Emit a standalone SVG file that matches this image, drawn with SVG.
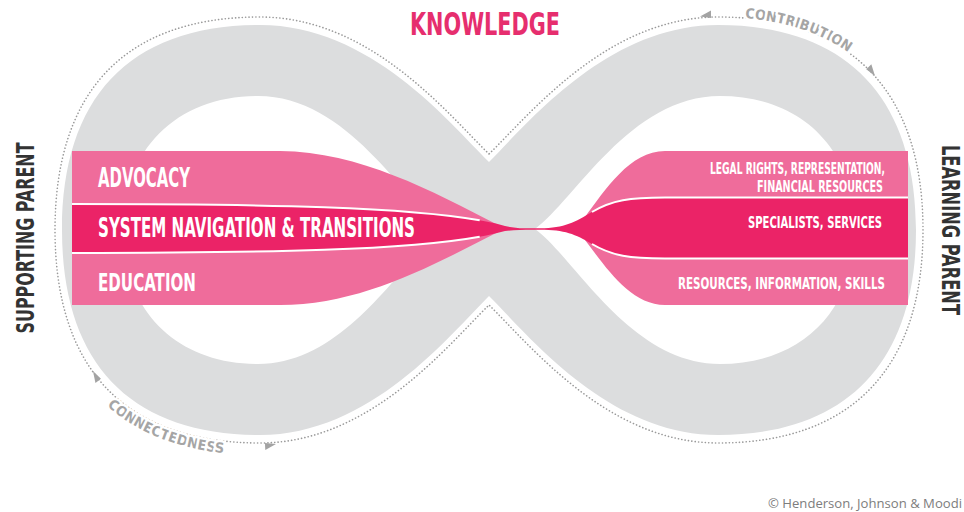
<svg xmlns="http://www.w3.org/2000/svg" width="964" height="512" viewBox="0 0 964 512">
<style>
.t{font-family:"Liberation Sans Narrow","DejaVu Sans Condensed","Liberation Sans",sans-serif;font-weight:bold}
.w{fill:#ffffff}
.e{text-anchor:end}
.lp{fill:#ef6c9b}
.dp{fill:#eb2367}
.sep{fill:none;stroke:#ffffff;stroke-width:2}
.dot{fill:none;stroke:#9a9a9a;stroke-width:1.6;stroke-dasharray:0.1 3.3;stroke-linecap:round}
.arr{fill:#a3a3a3}
.arc{fill:#a5a5a5;font-size:14px;stroke:#ffffff;stroke-width:5;stroke-linejoin:round;paint-order:stroke}
.side{fill:#333333;font-size:24px}
</style>
<defs>
<path id="pContrib" d="M718,17 C852,17 923,92 923,230"/>
<path id="pConn" d="M43,230 C43,377 119,455 260,455"/>
</defs>
<rect width="964" height="512" fill="#ffffff"/>
<g id="infinity-band">
<path fill="#dcddde" fill-rule="evenodd" d="M489,162 C449,122 370,25 260,25 C130,25 62,97 62,230 C62,363 130,435 260,435 C370,435 449,336 489,296 C529,336 608,435 718,435 C846,435 916,363 916,230 C916,97 846,25 718,25 C608,25 529,122 489,162 Z M535,229 C575,200 630,96 720,96 C801,96 855,149 855,230 C855,311 801,364 720,364 C630,364 575,258 535,229 Z M443,229 C403,200 348,96 258,96 C177,96 123,149 123,230 C123,311 177,364 258,364 C348,364 403,258 443,229 Z"/>
</g>
<g id="connectors">
<path class="dot" d="M489,154 C447,113 370,17 260,17 C124,17 55,92 55,230 C55,368 124,443 260,443 C370,443 447,346 489,305 C531,346 608,443 718,443 C852,443 923,368 923,230 C923,92 852,17 718,17 C608,17 531,113 489,154 Z"/>
<polygon class="arr" points="700,16.5 711,10.5 711,18"/>
<polygon class="arr" transform="translate(875,76) rotate(46)" points="0,0 -11,-5.5 -11,1.5"/>
<polygon class="arr" transform="translate(93,371) rotate(-128)" points="0,0 -11,-5.5 -11,1.5"/>
<polygon class="arr" transform="translate(276,444) rotate(-3)" points="0,0 -11,5.5 -11,-1.5"/>
</g>
<g id="contribution">
<text class="t arc"><textPath href="#pContrib" startOffset="27" textLength="110" lengthAdjust="spacingAndGlyphs">CONTRIBUTION</textPath></text>
</g>
<g id="connectedness">
<text class="t arc"><textPath href="#pConn" startOffset="54%" textLength="128" lengthAdjust="spacingAndGlyphs">CONNECTEDNESS</textPath></text>
</g>
<g id="advocacy">
<path class="lp" d="M72,151 H280 C360,152 430,190 500,226 L500,229 L72,229 Z"/>
<text class="t w" x="98" y="187" font-size="26" textLength="92" lengthAdjust="spacingAndGlyphs">ADVOCACY</text>
</g>
<g id="education">
<path class="lp" d="M72,305 H280 C360,305 430,267 500,231 L500,229 L72,229 Z"/>
<text class="t w" x="98" y="291" font-size="25.5" textLength="98" lengthAdjust="spacingAndGlyphs">EDUCATION</text>
</g>
<g id="legal-rights">
<path class="lp" d="M908,151 H665 C630,151 605,190 585,217 L585,229 H908 Z"/>
<text class="t w e" x="885" y="174" font-size="16" textLength="175" lengthAdjust="spacingAndGlyphs">LEGAL RIGHTS, REPRESENTATION,</text>
<text class="t w e" x="883" y="192" font-size="16" textLength="126" lengthAdjust="spacingAndGlyphs">FINANCIAL RESOURCES</text>
</g>
<g id="resources">
<path class="lp" d="M908,305 H665 C630,305 605,266 585,240 L585,229 H908 Z"/>
<text class="t w e" x="885" y="289" font-size="16.5" textLength="207" lengthAdjust="spacingAndGlyphs">RESOURCES, INFORMATION, SKILLS</text>
</g>
<g id="system-navigation">
<path class="dp" d="M72,204 C300,204 440,208 505,226 C515,228.3 525,228.4 540,228.3 C565,228 575,222 592,212 C612,200 630,197.5 665,197.5 H908 V258.5 H665 C630,258.5 612,256 592,244 C575,234 565,229.7 540,229.7 C525,229.6 515,229.7 505,231 C440,249 300,253 72,253 Z"/>
<text class="t w" x="98" y="237" font-size="26" textLength="317" lengthAdjust="spacingAndGlyphs">SYSTEM NAVIGATION &amp; TRANSITIONS</text>
</g>
<g id="specialists">
<text class="t w e" x="882" y="228" font-size="16.5" textLength="134" lengthAdjust="spacingAndGlyphs">SPECIALISTS, SERVICES</text>
</g>
<g id="separators">
<path class="sep" pathLength="100" stroke-dasharray="94 100" d="M72,204 C300,204 440,208 505,226"/>
<path class="sep" pathLength="100" stroke-dasharray="94 100" d="M72,253 C300,253 440,249 505,231"/>
<path class="sep" d="M592,212 C612,200 630,197.5 665,197.5 H908"/>
<path class="sep" d="M592,244 C612,256 630,258.5 665,258.5 H908"/>
</g>
<g id="knowledge">
<text class="t" x="410" y="35" font-size="32" fill="#e62e6e" textLength="150" lengthAdjust="spacingAndGlyphs">KNOWLEDGE</text>
</g>
<g id="supporting-parent">
<text class="t side" transform="translate(34,238) rotate(-90)" text-anchor="middle" textLength="191" lengthAdjust="spacingAndGlyphs">SUPPORTING PARENT</text>
</g>
<g id="learning-parent">
<text class="t side" transform="translate(942,230) rotate(90)" text-anchor="middle" textLength="170" lengthAdjust="spacingAndGlyphs">LEARNING PARENT</text>
</g>
<g id="credit">
<text x="768" y="508" font-family="'Open Sans','Liberation Sans',sans-serif" font-size="13.5" fill="#7d7d7d" textLength="194" lengthAdjust="spacingAndGlyphs">© Henderson, Johnson &amp; Moodi</text>
</g>
</svg>
